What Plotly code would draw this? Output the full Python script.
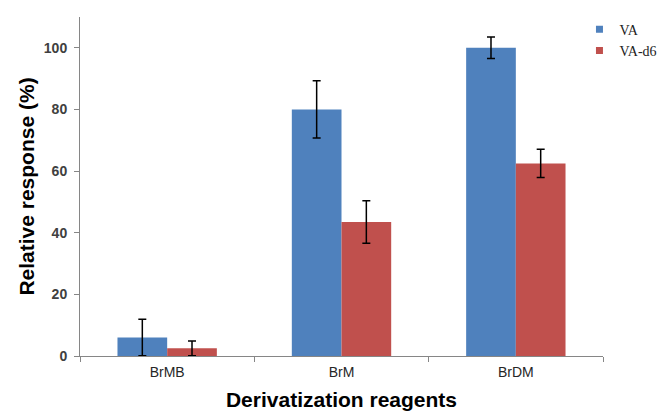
import plotly.graph_objects as go

categories = ["BrMB", "BrM", "BrDM"]
va_values = [6.0, 80.0, 100.0]
va_errors = [5.9, 9.3, 3.5]
vad6_values = [2.5, 43.5, 62.5]
vad6_errors = [2.4, 6.9, 4.6]
y_ticks = [0, 20, 40, 60, 80, 100]

BLUE = "#4F81BD"
RED = "#C0504D"

fig = go.Figure()
fig.add_trace(go.Bar(
    x=categories, y=va_values, name="VA",
    marker=dict(color=BLUE, line=dict(width=0)),
    error_y=dict(type="data", array=va_errors, color="black", thickness=1.5, width=4),
    showlegend=False,
))
fig.add_trace(go.Bar(
    x=categories, y=vad6_values, name="VA-d6",
    marker=dict(color=RED, line=dict(width=0)),
    error_y=dict(type="data", array=vad6_errors, color="black", thickness=1.5, width=4),
    showlegend=False,
))
# legend entries with small square keys (like the reference)
fig.add_trace(go.Scatter(x=[None], y=[None], mode="markers", name="VA",
                         marker=dict(symbol="square", size=7, color=BLUE)))
fig.add_trace(go.Scatter(x=[None], y=[None], mode="markers", name="VA-d6",
                         marker=dict(symbol="square", size=7, color=RED)))

# the page body adds an 8px offset, so the figure is 660x404 with shifted margins
fig.update_layout(
    width=660, height=404,
    margin=dict(l=72, r=57, t=6, b=56),
    paper_bgcolor="white", plot_bgcolor="white",
    barmode="group", bargap=0.43, bargroupgap=0,
    showlegend=True,
    legend=dict(
        x=0.955, y=1.01, xanchor="left", yanchor="top",
        font=dict(family="Liberation Serif, Times New Roman, serif", size=14, color="#222"),
        itemwidth=30, bgcolor="rgba(0,0,0,0)", borderwidth=0,
    ),
    xaxis=dict(
        automargin=False,
        showline=True, linecolor="#868686", linewidth=1,
        ticks="outside", ticklen=5, tickcolor="#868686",
        tickson="boundaries", ticklabelstandoff=3,
        tickfont=dict(family="Liberation Sans, Arial, sans-serif", size=14, color="#262626"),
        title=dict(text="<b>Derivatization reagents</b>",
                   font=dict(family="Liberation Sans, Arial, sans-serif", size=21, color="black"),
                   standoff=13),
        showgrid=False,
    ),
    yaxis=dict(
        automargin=False,
        range=[0, 110], tickvals=y_ticks,
        showline=True, linecolor="#868686", linewidth=1,
        ticks="outside", ticklen=5, tickcolor="#868686", ticklabelstandoff=4,
        tickfont=dict(family="Liberation Sans, Arial, sans-serif", size=14, color="#404040",
                      weight="bold"),
        title=dict(text="<b>Relative response (%)</b>",
                   font=dict(family="Liberation Sans, Arial, sans-serif", size=21, color="black"),
                   standoff=3),
        showgrid=False, zeroline=False,
    ),
)

fig.write_html("out.html")
